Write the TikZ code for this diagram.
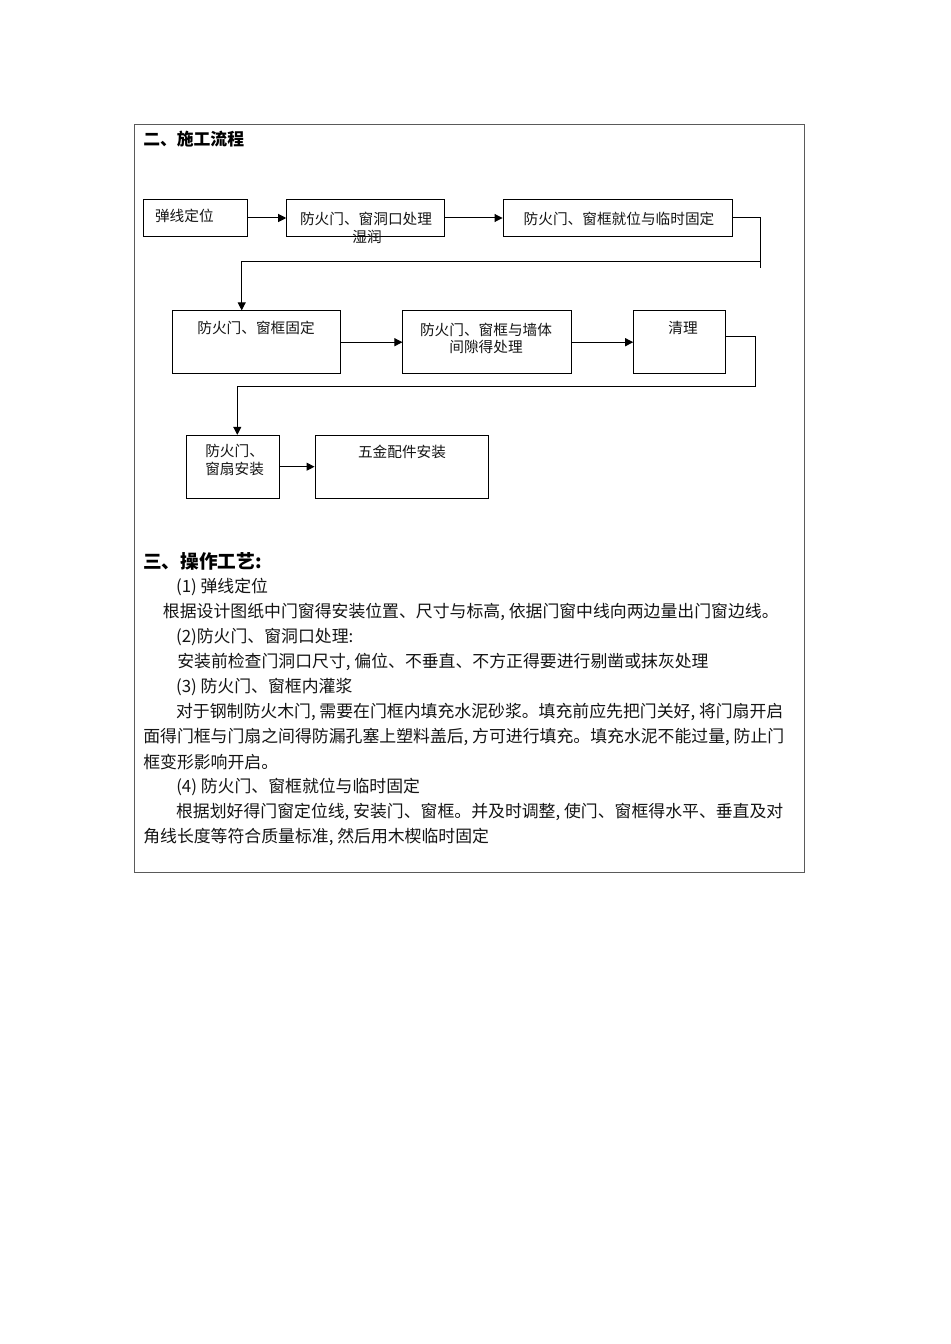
\documentclass[tikz,border=0pt]{standalone}
\usepackage{fontspec}
\setmainfont{Noto Sans CJK SC}
\usepackage{tikz}
\usetikzlibrary{arrows.meta,positioning,calc}
\definecolor{framecol}{RGB}{90,90,90}
\definecolor{inkcol}{RGB}{20,20,20}
\tikzset{
  % flow chart step box
  stepbox/.style={rectangle, draw=black, line width=0.75pt, inner sep=0pt, minimum height=28pt},
  tallbox/.style={stepbox, minimum height=47pt},
  % text inside a box
  boxtext/.style={font=\fontsize{11}{12.75}\selectfont, text=inkcol, inner sep=0pt},
  % connector with arrow
  flow/.style={-{Triangle[length=6pt,width=6pt]}, line width=0.75pt},
  plainline/.style={line width=0.75pt},
  % section heading
  headtext/.style={font=\fontsize{#1}{#1}\selectfont\bfseries, anchor=west, inner sep=0pt},
  headtext/.default={12.6},
  % body line
  bodytext/.style={font=\fontsize{12.65}{14}\selectfont, anchor=west, inner sep=0pt, text=inkcol},
}
\begin{document}
\begin{tikzpicture}[x=0.75pt,y=-0.75pt]
  \useasboundingbox (0,0) rectangle (950,1344);
  % outer frame
  \draw[framecol, line width=0.75pt] (134.7,124.7) rectangle (804.8,872.7);
  \node[headtext] (h1) at (143,139) {二、施工流程};

  % first row
  \node[stepbox, minimum width=78.3pt] (b1) at (195.5,218) {};
  \node[stepbox, minimum width=118pt] (b2) at (365.4,218) {};
  \node[stepbox, minimum width=172pt] (b3) at (617.7,218) {};
  \node[boxtext] (t1) at (184.4,215.5) {弹线定位};
  \node[boxtext] (t2) at (366,218.5) {防火门、窗洞口处理};
  \node[boxtext] (t2b) at (367,236.5) {湿润};
  \node[boxtext] (t3) at (619,218.5) {防火门、窗框就位与临时固定};
  \draw[flow] (b1) -- (b2);
  \draw[flow] (b2) -- (b3);

  % second row
  \node[tallbox, minimum width=126.2pt] (b4) at (256.4,342.2) {};
  \node[tallbox, minimum width=126.4pt] (b5) at (487.2,342.2) {};
  \node[tallbox, minimum width=69pt] (b6) at (679.7,342.2) {};
  \node[boxtext] (t4) at (256,328) {防火门、窗框固定};
  \node[boxtext, align=center] (t5) at (486,338.5) {防火门、窗框与墙体\\间隙得处理};
  \node[boxtext] (t6) at (683,328) {清理};
  \draw[flow] (b4) -- (b5);
  \draw[flow] (b5) -- (b6);

  % third row
  \node[tallbox, minimum width=70pt] (b7) at (233.3,466.7) {};
  \node[tallbox, minimum width=130pt] (b8) at (401.7,466.7) {};
  \node[boxtext, align=left, anchor=west, font=\fontsize{11}{14}\selectfont] (t7) at (205,460) {防火门、\\窗扇安装};
  \node[boxtext] (t8) at (402,451.7) {五金配件安装};
  \draw[flow] (b7) -- (b8);

  % row links
  \coordinate (e1) at (760,268);
  \coordinate (e1b) at (241.7,261.7);
  \draw[plainline] (b3.east) -| (e1);
  \draw[flow] (e1 |- e1b) -- (e1b) -- (e1b |- b4.north);
  \coordinate (e2) at (755,386);
  \coordinate (e2b) at (237.3,386);
  \draw[flow] ([yshift=4.5pt]b6.east) -| (e2) -- (e2b) -- (e2b |- b7.north);

  % operation text
  \node[headtext=14] (h2) at (143,561.7) {三、操作工艺:};
  \node[bodytext] (l1) at (175.8,586.7) {(1)\ 弹线定位};
  \node[bodytext] (l2) at (162.7,611.7) {根据设计图纸中门窗得安装位置、尺寸与标高, 依据门窗中线向两边量出门窗边线。};
  \node[bodytext] (l3) at (175.8,636.7) {(2)防火门、窗洞口处理:};
  \node[bodytext] (l4) at (177,661.7) {安装前检查门洞口尺寸, 偏位、不垂直、不方正得要进行剔凿或抹灰处理};
  \node[bodytext] (l5) at (175.8,686.7) {(3) 防火门、窗框内灌浆};
  \node[bodytext] (l6) at (175.8,711.7) {对于钢制防火木门, 需要在门框内填充水泥砂浆。填充前应先把门关好, 将门扇开启};
  \node[bodytext] (l7) at (143,736.7) {面得门框与门扇之间得防漏孔塞上塑料盖后, 方可进行填充。填充水泥不能过量, 防止门};
  \node[bodytext] (l8) at (143,761.7) {框变形影响开启。};
  \node[bodytext] (l9) at (176,787.3) {(4)\ 防火门、窗框就位与临时固定};
  \node[bodytext] (l10) at (175.8,812) {根据划好得门窗定位线, 安装门、窗框。并及时调整, 使门、窗框得水平、垂直及对};
  \node[bodytext] (l11) at (143,836.7) {角线长度等符合质量标准, 然后用木楔临时固定};
\end{tikzpicture}
\end{document}
